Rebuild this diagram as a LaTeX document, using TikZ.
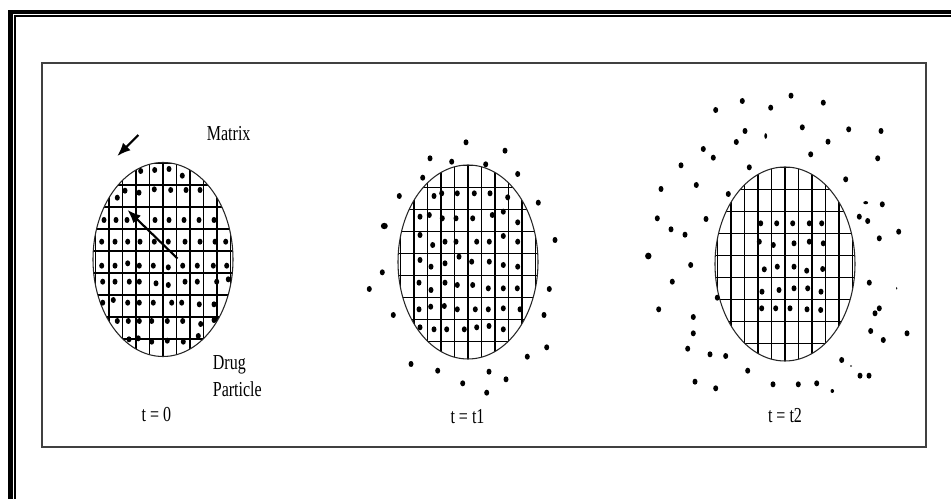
\documentclass[tikz,border=0pt]{standalone}
\usepackage{fontspec}
\setmainfont{Liberation Serif}
\usetikzlibrary{arrows.meta}
\begin{document}
\begin{tikzpicture}[x=0.75pt, y=-0.75pt,
    every node/.style = {inner sep=0pt, xscale=0.75, font=\fontsize{16}{20}\selectfont},
    outline/.style = {draw=black!85, line width=0.8pt},
    gridline/.style = {line width=0.9pt},
    grain/.style = {fill=black},
    pointer/.style = {-{Latex[length=10pt,width=8pt]}, line width=1.6pt}]
  \useasboundingbox (0,0) rectangle (951,499);
  \fill[white] (0,0) rectangle (951,499);
  \draw[line width=3.4pt] (951,12) -- (10.5,12) -- (10.5,499);
  \draw[line width=1.1pt] (951,16) -- (15.2,16) -- (15.2,499);
  \draw[black!75, line width=1.5pt] (42,63) rectangle (926,447);
  \foreach \cx/\cy in {163/259.5, 468/262, 785/264} {
    \begin{scope}
      \clip (\cx,\cy) ellipse [x radius=70, y radius=97];
      \foreach \k in {-5,...,5}
        \draw[gridline] (\cx+13.5*\k,\cy-100) -- ++(0,200);
      \foreach \k in {-4,...,4}
        \draw[gridline] (\cx-75,\cy-8.5+22*\k) -- ++(150,0);
    \end{scope}
    \draw[outline] (\cx,\cy) ellipse [x radius=70, y radius=97];
  }
  \foreach \p in {(140.7,171),(154.7,170),(169,169),(182.3,175.7),
      (117.3,197.7),(125,190.7),(139,192.7),(154.3,189.3),(170.7,190),(186,190),(200,190),
      (104,220),(116,220),(127,220),(155,220),(169,220),(184,220),(199,220),(214,220),
      (101.7,241.7),(115,241.7),(127.7,241.7),(140,241.7),(154.3,241.7),(168.3,241.7),(185,241.7),(200,241.7),(215,241.7),(225.7,241.7),
      (101.7,265.7),(115,265.7),(127.7,263.3),(139.3,265.7),(153.3,265.7),(168.3,267.3),(182.7,265.7),(197.3,265.7),(213.3,265.7),(226.7,265.7),
      (102.7,281.7),(115,281.7),(129.3,281.7),(139.3,281.7),(156,283.3),(168.3,285),(185,281.7),(197.3,281.7),(216.7,281.7),(228.3,279.3),
      (102.7,302.7),(113.3,300),(127.7,302.7),(139.3,302.7),(153.3,302.7),(171.7,302.7),(181.7,302.7),(199.3,304.3),(214,304.3),
      (117.3,321),(128.3,321),(139.3,321),(151.7,321),(167.3,321),(182.7,321),(200.7,324),(214,320),
      (129,339.3),(138.3,338.3),(151.7,341.7),(167.3,340.7),(183.3,341.7),(198.3,336)}
    \fill[grain] \p ellipse [x radius=2.5, y radius=3];
  \foreach \p in {(434,196),(441.7,193.3),(457.3,193.3),(474.3,193.3),(490,193.3),(507.7,197.3),
      (420,216.7),(429.3,215),(442.3,218.3),(456,218.3),(472.7,218.3),(492.3,215),(503.3,211.7),(517.7,222.3),
      (420,235),(432.7,245),(445,241.7),(456,241.7),(476.7,241.7),(489.3,241.7),(503.3,236),(517.7,241.7),
      (420,260),(431,266.7),(445,263.3),(459,256.7),(471.7,261.7),(489.3,261.7),(503.3,265),(517.7,266.7),
      (419,282.7),(431,290),(445,282.7),(457.3,285),(472.7,285),(488.3,288.3),(503.3,288.3),(517.3,288.3),
      (419,309.3),(430.7,306.7),(444.3,306),(457.3,309.3),(475.3,309.3),(488.3,309.3),(503.3,308.3),(520,309.3),
      (420,327.3),(434,329.3),(446.7,329.3),(464.3,329.3),(476.7,327.3),(489,326),(503.3,329.3),
      (466,142.3),(505,150.7),(430,158.3),(451.7,161.7),(485.7,164.3),(517.7,174),(422.7,177.7),
      (399.3,196),(538.3,202.7),(555,240),(382.3,272.3),(369.3,289),(549.3,289),(393.3,315),
      (544,315),(546.7,347.3),(527.3,356.7),(411,364),(437.7,370.7),(489,371.7),(506,379.3),
      (462.7,383.3),(486.7,392.7)}
    \fill[grain] \p ellipse [x radius=2.5, y radius=3];
  \fill[grain] (384.3,226) ellipse [x radius=3.5, y radius=3.2];
  \foreach \p in {(760.7,223.3),(776.7,223.3),(792.7,223.3),(809.3,223.3),(821.7,223.3),
      (759.3,241.7),(773.3,245),(794,243.3),(809.3,241.7),(823.3,243.3),
      (764.3,269.3),(777.3,266.7),(794,266.7),(806.7,270.7),(822.7,269),
      (762,291.7),(779,290),(794,288.3),(807.7,288.3),(821,291.7),
      (761.7,308.3),(775.7,308.3),(790,308.3),(807,309.3),(820.7,310),
      (791,95.7),(742.3,101),(823.3,102.7),(715.7,110),(770.7,107.7),(802.3,127.3),(848.7,129.3),
      (881,131),(745,131),(736.3,142),(828,141.7),(703.3,149),(713.3,157.7),(810.7,154.3),
      (877.7,158.3),(681,165.3),(749.3,167.3),(845.7,179.3),(661,189),(696.3,185),(728.3,194),
      (882.3,204.3),(657.3,218.3),(706,219),(859.3,216.7),(867.7,221),(671,229.3),(685,234.7),
      (898.7,231.7),(879.3,238.3),(690.7,265),(672.3,281.7),(869.3,282.7),(717.3,297.7),
      (658.7,309.3),(879.3,308.3),(875,313.3),(693.3,317),(693.3,333.3),(870.7,331),(907,333.3),
      (883.3,340),(687.7,348.7),(710,354.3),(725.7,356),(841.7,360),(747.7,370.7),(860,375.7),
      (869,375.7),(695,381.7),(715.7,388.3),(773,384.3),(798.3,384.3),(816.7,383.3)}
    \fill[grain] \p ellipse [x radius=2.5, y radius=3];
  \fill[grain] (648.3,256) ellipse [x radius=3.2, y radius=3.4];
  \fill[grain] (765.7,136) ellipse [x radius=1.4, y radius=2.8];
  \fill[grain] (865.7,202.7) ellipse [x radius=2.4, y radius=1.6];
  \fill[grain] (832.3,391) ellipse [x radius=1.8, y radius=2];
  \fill[grain] (851,366) ellipse [x radius=1, y radius=0.8];
  \fill[grain] (896.7,288.3) ellipse [x radius=0.6, y radius=1.4];
  \coordinate (ma) at (138.3,135);
  \coordinate (mb) at (117.3,156);
  \coordinate (pa) at (177.5,258.5);
  \coordinate (pb) at (127.5,210);
  \draw[pointer] (ma) -- (mb);
  \draw[pointer] (pa) -- (pb);
  \node[anchor=base west] (matrix) at (206.7,140.7) {Matrix};
  \node[anchor=base west] (drug) at (212.7,369.5) {Drug};
  \node[anchor=base west] (particle) at (212.7,396.5) {Particle};
  \node[anchor=base] (t0) at (156.3,421.7) {t = 0};
  \node[anchor=base] (t1) at (467.5,424) {t = t1};
  \node[anchor=base] (t2) at (785,422.7) {t = t2};
\end{tikzpicture}
\end{document}
